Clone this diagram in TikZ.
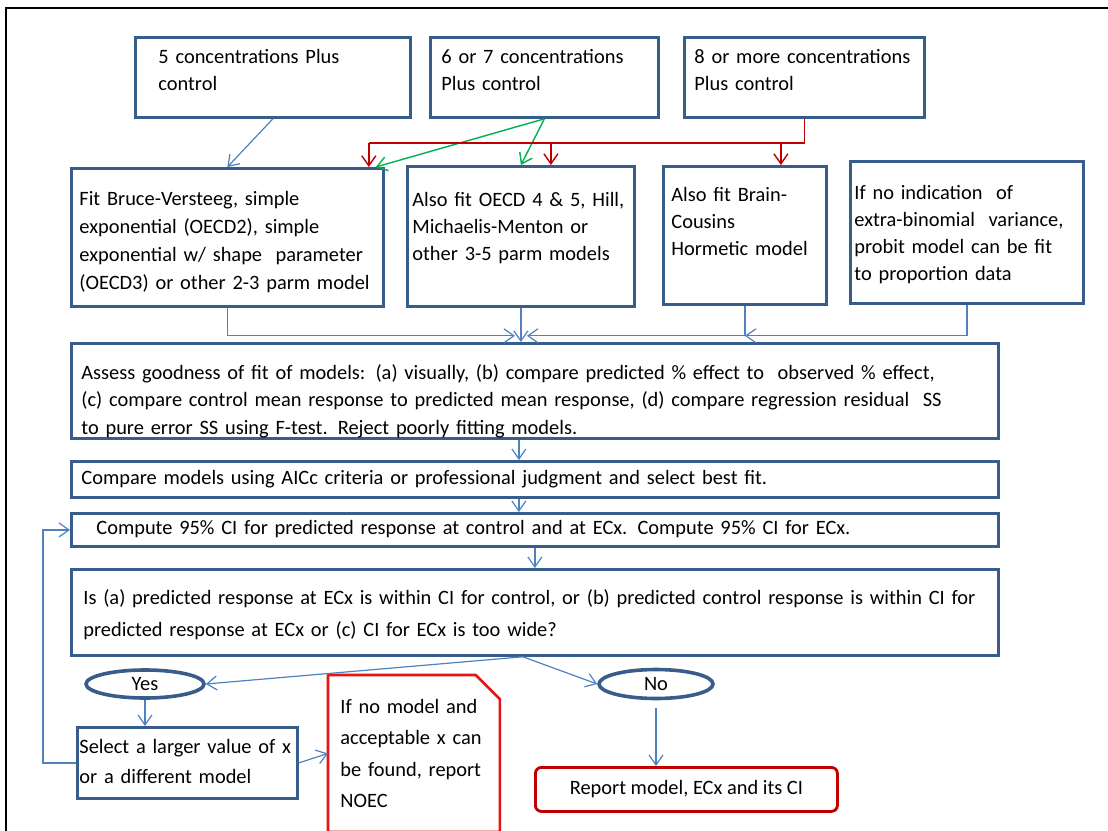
\documentclass[tikz,border=0pt]{standalone}
\usepackage{fontspec}
\setmainfont{Carlito}
\usetikzlibrary{positioning,arrows.meta,calc,shapes.geometric}

\definecolor{boxblue}{RGB}{56,93,138}
\definecolor{arrblue}{RGB}{79,129,189}
\definecolor{arrred}{RGB}{192,0,0}
\definecolor{arrgreen}{RGB}{0,176,80}
\definecolor{noecred}{RGB}{230,20,20}
\definecolor{repred}{RGB}{192,0,0}

\begin{document}
\begin{tikzpicture}[
  x=0.5pt, y=-0.5pt,
  font=\fontsize{10.2}{13.5}\selectfont,
  >={Straight Barb[length=5pt,width=7pt]},
  stepbox/.style={draw=boxblue, line width=1.4pt, fill=white,
                  anchor=north west, inner ysep=0pt, align=left},
  answer/.style={ellipse, draw=boxblue, line width=1.8pt, inner sep=0pt},
  arr/.style={->, arrblue, line width=0.6pt},
  redarr/.style={arrred, line width=0.7pt},
  greenarr/.style={->, arrgreen, line width=0.7pt},
]
\useasboundingbox (0,0) rectangle (1108,830);
\draw[line width=1pt] (6,840) -- (6,8) -- (1120,8);

% --- Top row: number of concentrations ---
\node[stepbox, inner xsep=11.5pt, text width=114.5pt,
      text height=13pt, text depth=27pt] (five) at (134,36)
  {5 concentrations Plus\\control};
\node[stepbox, inner xsep=5.5pt, text width=103pt,
      text height=13pt, text depth=27pt] (sixseven) at (429,36)
  {6 or 7 concentrations\\Plus control};
\node[stepbox, inner xsep=5pt, text width=110pt,
      text height=13pt, text depth=27pt] (eight) at (683,36)
  {8 or more concentrations\\Plus control};

% --- Second row: candidate models ---
\node[stepbox, inner xsep=4pt, text width=148pt,
      font=\fontsize{10.2}{14}\selectfont,
      text height=18.5pt, text depth=50.5pt] (fitbv) at (70,167)
  {Fit Bruce-Versteeg, simple\\exponential (OECD2), simple\\
   exponential w/ shape~ parameter\\(OECD3) or other 2-3 parm model};
\node[stepbox, inner xsep=2.5pt, text width=108.5pt,
      text height=20pt, text depth=50pt] (fitoecd) at (406,165)
  {Also fit OECD 4 \& 5, Hill,\\Michaelis-Menton or\\other 3-5 parm models};
\node[stepbox, inner xsep=4pt, text width=73.5pt,
      text height=17.5pt, text depth=51.5pt] (fitbc) at (662,165)
  {Also fit Brain-\\Cousins\\Hormetic model};
\node[stepbox, inner xsep=2pt, text width=112.5pt,
      text height=19pt, text depth=52pt] (probit) at (849,160)
  {If no indication~ of\\extra-binomial~ variance,\\probit model can be fit\\
   to proportion data};

% --- Wide steps ---
\node[stepbox, inner xsep=5pt, text width=453.5pt,
      font=\fontsize{10.2}{13.75}\selectfont,
      text height=18pt, text depth=29.5pt] (assess) at (70,342)
  {Assess goodness of fit of models: (a) visually, (b) compare predicted \% effect to~ observed \% effect,\\
   (c) compare control mean response to predicted mean response, (d) compare regression residual~ SS\\
   to pure error SS using F-test. Reject poorly fitting models.};
\node[stepbox, inner xsep=5pt, text width=453.5pt,
      text height=11.5pt, text depth=6.5pt] (compare) at (70,460)
  {Compare models using AICc criteria or professional judgment and select best fit.};
\node[stepbox, inner xsep=12.5pt, text width=438.5pt,
      text height=10.5pt, text depth=6pt] (ci) at (70,512)
  {Compute 95\% CI for predicted response at control and at ECx. Compute 95\% CI for ECx.};
\node[stepbox, inner xsep=6pt, text width=451.5pt,
      font=\fontsize{10.2}{16}\selectfont,
      text height=17.5pt, text depth=25.5pt] (question) at (70,568)
  {Is (a) predicted response at ECx is within CI for control, or (b) predicted control response is within CI for\\
   predicted response at ECx or (c) CI for ECx is too wide?};

% --- Answers and outcomes ---
\node[answer, minimum width=59pt, minimum height=14pt] (yes) at (145,684) {Yes};
\node[answer, minimum width=57pt, minimum height=14.5pt] (no) at (656,684) {No};

\node[stepbox, inner xsep=1pt, text width=108pt,
      font=\fontsize{10.2}{15}\selectfont,
      text height=13pt, text depth=22.5pt] (larger) at (76,726)
  {Select a larger value of x\\or a different model};
\node[anchor=north west, inner ysep=0pt, inner xsep=6pt, text width=73.5pt,
      align=left, font=\fontsize{10.2}{15.75}\selectfont,
      text height=19pt, text depth=59pt] (noec) at (328,675)
  {If no model and\\acceptable x can\\be found, report\\NOEC};
\draw[noecred, line width=1.3pt, line join=round]
  (noec.north west) -- ([xshift=-12pt]noec.north east)
  -- ([yshift=-12pt]noec.north east) -- (noec.south east)
  -- (noec.south west) -- cycle;
\node[draw=repred, line width=1.4pt, rounded corners=3pt, anchor=north west,
      minimum width=151pt, minimum height=22pt] (report) at (534,766)
  {Report model, ECx and its CI};

% --- Connectors, top ---
\draw[arr] (five.south) -- (fitbv.north);
\draw[greenarr] (sixseven.south) -- ([xshift=-4.5pt]fitbv.north east);
\draw[greenarr] (sixseven.south) -- (fitoecd.north);

\coordinate (rbus) at ([yshift=-12pt]eight.south);
\coordinate (r1) at ([xshift=-8pt]fitbv.north east);
\coordinate (r2) at ([xshift=15pt]fitoecd.north);
\coordinate (r3) at ([xshift=18pt]fitbc.north);
\draw[redarr] (eight.south) |- (r1 |- rbus);
\foreach \t in {r1,r2,r3}
  \draw[redarr,->] (\t |- rbus) -- (\t);

% --- Connectors, models into assessment ---
\coordinate (bus) at ([yshift=-14pt]fitoecd.south);
\draw[arr] (fitbv.south) |- ([xshift=-3pt]bus);
\draw[arr] (fitoecd.south) -- (fitoecd.south |- assess.north);
\draw[arr] (fitbc.south) |- ([xshift=3pt]bus);
\draw[arr] (probit.south) |- (fitbc.south |- bus);

% --- Connectors, main column ---
\draw[arr] ([xshift=-8pt]assess.south) -- ([xshift=-8pt]compare.north);
\draw[arr] ([xshift=-8pt]compare.south) -- ([xshift=-8pt]ci.north);
\draw[arr] (ci.south) -- (question.north);

\coordinate (qout) at ([xshift=-6pt]question.south);
\draw[arr] (qout) -- (yes.east);
\draw[arr] (qout) -- (no.west);
\draw[arr] (yes.south) -- (yes.south |- larger.north);
\draw[arr] (larger.west) -- ++(-33,0) |- (ci.west);
\draw[arr] (larger.east) -- (noec.west);
\draw[arr] ([yshift=-4pt]no.south) -- (no.south |- report.north);

\end{tikzpicture}
\end{document}
